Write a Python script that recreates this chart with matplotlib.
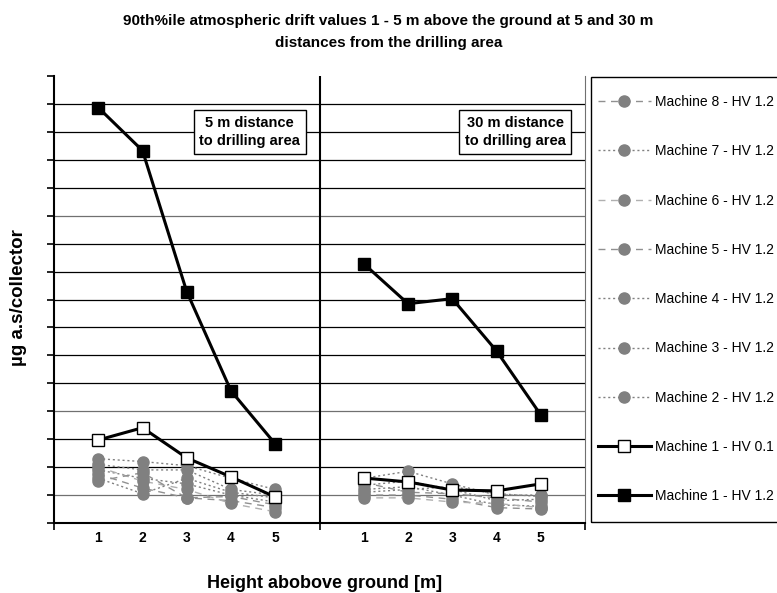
import matplotlib.pyplot as plt
from matplotlib.lines import Line2D
from matplotlib.patches import Rectangle

plt.rcParams['font.family'] = ['Liberation Sans', 'DejaVu Sans']

heights = [1, 2, 3, 4, 5]
panels = ["5 m distance\nto drilling area", "30 m distance\nto drilling area"]

# values per machine: first 5 = 5 m distance, last 5 = 30 m distance
m1_hv12 = [14.87, 13.33, 8.28, 4.73, 2.83, 9.28, 7.85, 8.03, 6.16, 3.87]
m1_hv01 = [2.97, 3.41, 2.33, 1.65, 0.93, 1.61, 1.47, 1.18, 1.15, 1.40]
m2 = [2.30, 2.20, 2.05, 1.60, 1.20, 1.60, 1.85, 1.40, 1.00, 1.00]
m3 = [2.10, 1.90, 1.90, 1.20, 1.00, 1.35, 1.50, 1.20, 0.80, 0.85]
m4 = [1.90, 1.60, 1.40, 1.00, 0.75, 1.20, 1.30, 1.00, 0.65, 0.60]
m5 = [1.75, 1.25, 0.90, 0.80, 0.55, 1.00, 1.00, 0.85, 0.55, 0.50]
m6 = [2.00, 1.50, 1.20, 0.70, 0.40, 0.90, 0.90, 0.75, 0.70, 0.55]
m7 = [1.60, 1.05, 1.60, 1.10, 0.90, 1.10, 1.20, 1.30, 1.05, 0.95]
m8 = [1.50, 1.80, 0.90, 0.95, 0.65, 1.45, 1.10, 1.05, 0.90, 0.75]

fig = plt.figure(figsize=(7.77, 5.93), dpi=100)
ax = fig.add_axes([54 / 777, 1 - 523 / 593, 531 / 777, 447 / 593])

gray = '#808080'
gray_series = [
    ("Machine 2 - HV 1.2", m2, (0, (1.5, 2)), '#808080'),
    ("Machine 3 - HV 1.2", m3, (0, (1.5, 2)), '#808080'),
    ("Machine 4 - HV 1.2", m4, (0, (1.5, 2)), '#808080'),
    ("Machine 5 - HV 1.2", m5, (0, (5, 4)), '#909090'),
    ("Machine 6 - HV 1.2", m6, (0, (5, 4)), '#b0b0b0'),
    ("Machine 7 - HV 1.2", m7, (0, (1.5, 2)), '#808080'),
    ("Machine 8 - HV 1.2", m8, (0, (5, 4)), '#909090'),
]

handles = {}
for label, vals, ls, col in gray_series:
    for p in range(2):
        xs = [h + 6 * p for h in heights]
        ax.plot(xs, vals[5 * p:5 * p + 5], linestyle=ls, color=col, lw=1,
                marker='o', markersize=8, markerfacecolor=gray,
                markeredgecolor=gray, zorder=3)
    handles[label] = Line2D([], [], linestyle=ls, color=col, lw=1, marker='o',
                            markersize=8, markerfacecolor=gray, markeredgecolor=gray)

for p in range(2):
    xs = [h + 6 * p for h in heights]
    ax.plot(xs, m1_hv01[5 * p:5 * p + 5], color='black', lw=2.2, marker='s',
            markersize=9, markerfacecolor='white', markeredgecolor='black',
            markeredgewidth=1, zorder=5)
    ax.plot(xs, m1_hv12[5 * p:5 * p + 5], color='black', lw=2.2, marker='s',
            markersize=9, markerfacecolor='black', markeredgecolor='black', zorder=5)
handles["Machine 1 - HV 0.1"] = Line2D([], [], color='black', lw=2.2, marker='s',
                                       markersize=9, markerfacecolor='white',
                                       markeredgecolor='black', markeredgewidth=1)
handles["Machine 1 - HV 1.2"] = Line2D([], [], color='black', lw=2.2, marker='s',
                                       markersize=9, markerfacecolor='black')

ax.set_xlim(0, 12)
ax.set_ylim(0, 16)
for y in range(1, 16):
    ax.axhline(y, color='#707070' if y in (1, 4, 11) else 'black', lw=0.9, zorder=1)
ax.axvline(6, color='black', lw=1.5, zorder=2)

ax.set_yticks(range(0, 17))
ax.set_yticklabels([])
ax.set_xticks([0, 6, 12])
ax.set_xticklabels([])
ax.tick_params(axis='both', direction='out', length=5, width=1.2, colors='black')
for h in heights:
    for p in range(2):
        ax.text(h + 6 * p, -0.3, str(h), ha='center', va='top',
                fontsize=10, fontweight='bold')

ax.spines['top'].set_visible(False)
ax.spines['left'].set_linewidth(1.5)
ax.spines['bottom'].set_linewidth(1.5)
ax.spines['right'].set_color('#707070')

for p, txt in enumerate(panels):
    ax.text(4.42 + 6 * p, 14.0, txt, ha='center', va='center', fontsize=10.5,
            fontweight='bold', linespacing=1.4,
            bbox=dict(boxstyle='square,pad=0.38', facecolor='white',
                      edgecolor='black', lw=1), zorder=6)

fig.text(0.5, 1 - 32 / 593, "90th%ile atmospheric drift values 1 - 5 m above the ground at 5 and 30 m\ndistances from the drilling area",
         ha='center', va='center', fontsize=11, fontweight='bold', linespacing=1.65)
fig.text(19 / 777, 1 - 298 / 593, "µg a.s/collector", rotation=90, ha='center',
         va='center', fontsize=13.5, fontweight='bold')
fig.text(325 / 777, 1 - 584 / 593, "Height abobove ground [m]", ha='center',
         va='center', fontsize=13, fontweight='bold')

# legend frame runs past the right edge of the picture
fig.patches.append(Rectangle((591 / 777, 1 - 522 / 593), 0.5, 445 / 593,
                             transform=fig.transFigure, facecolor='none',
                             edgecolor='black', lw=1, zorder=1))

order = ["Machine 8 - HV 1.2", "Machine 7 - HV 1.2", "Machine 6 - HV 1.2",
         "Machine 5 - HV 1.2", "Machine 4 - HV 1.2", "Machine 3 - HV 1.2",
         "Machine 2 - HV 1.2", "Machine 1 - HV 0.1", "Machine 1 - HV 1.2"]
leg = fig.legend([handles[k] for k in order], order, loc='upper left',
                 bbox_to_anchor=(598 / 777, 1 - 95 / 593), fontsize=10,
                 labelspacing=2.54, handlelength=3.8, handletextpad=0.29,
                 borderpad=0, frameon=False, borderaxespad=0)

fig.savefig('out.png', dpi=100)
